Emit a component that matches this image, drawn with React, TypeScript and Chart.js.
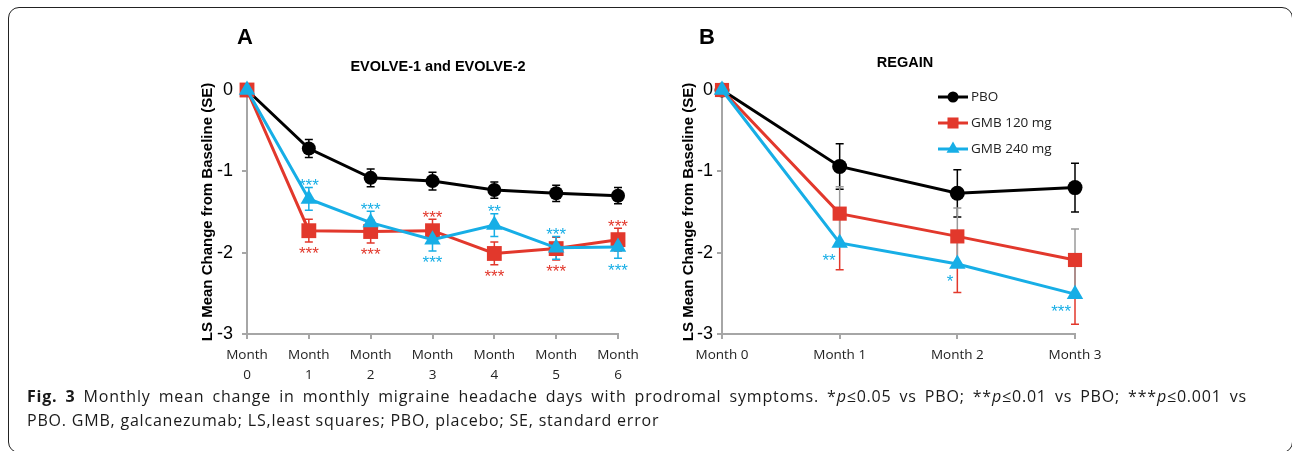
import React, { useEffect, useRef } from 'react';
import { Chart, registerables } from 'chart.js';

Chart.register(...registerables);

// ---------- data ----------
const categoriesA = ['Month 0', 'Month 1', 'Month 2', 'Month 3', 'Month 4', 'Month 5', 'Month 6'];
const pboA = [0, -0.72, -1.08, -1.12, -1.23, -1.27, -1.30];
const pboSeA = [0, 0.11, 0.11, 0.11, 0.1, 0.1, 0.1];
const gmb120A = [0, -1.73, -1.74, -1.73, -2.01, -1.95, -1.84];
const gmb120SeA = [0, 0.14, 0.14, 0.14, 0.14, 0.14, 0.14];
const gmb240A = [0, -1.34, -1.63, -1.84, -1.66, -1.94, -1.93];
const gmb240SeA = [0, 0.14, 0.14, 0.14, 0.14, 0.14, 0.14];
const stars120A = ['', '***', '***', '***', '***', '***', '***'];
const stars120PosA = ['', 'below', 'below', 'above', 'below', 'below', 'above'];
const stars240A = ['', '***', '***', '***', '**', '***', '***'];
const stars240PosA = ['', 'above', 'above', 'below', 'above', 'above', 'below'];

const categoriesB = ['Month 0', 'Month 1', 'Month 2', 'Month 3'];
const pboB = [0, -0.94, -1.27, -1.2];
const pboSeB = [0, 0.28, 0.29, 0.3];
const gmb120B = [0, -1.52, -1.8, -2.09];
const gmb120SeB = [0, 0.69, 0.69, 0.79];
const gmb240B = [0, -1.88, -2.14, -2.51];
const gmb240SeB = [0, 0.69, 0.69, 0.8];
const stars240B = ['', '**', '*', '***'];

const yTicks = [0, -1, -2, -3];
const seriesLabels = ['PBO', 'GMB 120 mg', 'GMB 240 mg'];

// ---------- styles ----------
const AXIS = '#a6a6a6';
const BLACK = '#000000';
const RED = '#e2382c';
const BLUE = '#17aee6';
const SANS = "'Liberation Sans', Arial, sans-serif";
const LABEL_FONT = "'Open Sans', 'Noto Sans', sans-serif";

function drawMarker(ctx: CanvasRenderingContext2D, style: string, x: number, y: number, r: number, color: string) {
  ctx.save();
  ctx.fillStyle = color;
  ctx.beginPath();
  if (style === 'circle') {
    ctx.arc(x, y, r, 0, Math.PI * 2);
  } else if (style === 'rect') {
    const s = r * Math.SQRT1_2;
    ctx.rect(x - s, y - s, 2 * s, 2 * s);
  } else {
    ctx.moveTo(x, y - r);
    ctx.lineTo(x + r * Math.sin((2 * Math.PI) / 3), y - r * Math.cos((2 * Math.PI) / 3));
    ctx.lineTo(x + r * Math.sin((4 * Math.PI) / 3), y - r * Math.cos((4 * Math.PI) / 3));
    ctx.closePath();
  }
  ctx.fill();
  ctx.restore();
}

const errorBarPlugin = {
  id: 'errorBars',
  beforeDatasetsDraw(chart: any) {
    const { ctx } = chart;
    const x = chart.scales.x;
    const y = chart.scales.y;
    const idx = chart.data.datasets.map((_: any, i: number) => i).sort(
      (a: number, b: number) => (chart.data.datasets[b].order || 0) - (chart.data.datasets[a].order || 0)
    );
    idx.forEach((di: number) => {
      const ds = chart.data.datasets[di];
      ctx.save();
      ctx.lineWidth = ds.errWidth || 1.5;
      ds.data.forEach((v: number, i: number) => {
        const up = ds.errPlus ? ds.errPlus[i] : 0;
        const dn = ds.errMinus ? ds.errMinus[i] : 0;
        const px = x.getPixelForValue(i);
        const py = y.getPixelForValue(v);
        const cap = 4;
        if (up) {
          ctx.strokeStyle = ds.errColorPlus || ds.borderColor;
          const t = y.getPixelForValue(v + up);
          ctx.beginPath();
          ctx.moveTo(px, py);
          ctx.lineTo(px, t);
          ctx.moveTo(px - cap, t);
          ctx.lineTo(px + cap, t);
          ctx.stroke();
        }
        if (dn) {
          ctx.strokeStyle = ds.errColorMinus || ds.borderColor;
          const b = y.getPixelForValue(v - dn);
          ctx.beginPath();
          ctx.moveTo(px, py);
          ctx.lineTo(px, b);
          ctx.moveTo(px - cap, b);
          ctx.lineTo(px + cap, b);
          ctx.stroke();
        }
      });
      ctx.restore();
    });
  },
};

function drawStars(ctx: CanvasRenderingContext2D, text: string, x: number, cy: number, color: string, align: CanvasTextAlign) {
  const size = 17;
  ctx.save();
  ctx.font = `${size}px ${SANS}`;
  ctx.fillStyle = color;
  ctx.textAlign = align;
  ctx.textBaseline = 'alphabetic';
  ctx.fillText(text, x, cy + size * 0.575);
  ctx.restore();
}

function baseOptions(yWidth: number, xHeight: number, padRight: number, titlePad: number, tickPad: number) {
  return {
    responsive: false,
    animation: false,
    devicePixelRatio: 1,
    layout: { padding: { top: 70, right: padRight, left: 0, bottom: 0 } },
    plugins: { legend: { display: false }, tooltip: { enabled: false }, title: { display: false } },
    elements: { line: { tension: 0 } },
    scales: {
      x: {
        type: 'category',
        offset: false,
        afterFit: (s: any) => { s.height = xHeight; },
        grid: { display: true, drawOnChartArea: false, drawTicks: true, tickLength: 5, color: AXIS, lineWidth: 2, offset: false },
        border: { display: true, color: AXIS, width: 2 },
        ticks: { color: '#222', font: { family: LABEL_FONT, size: 13.5, lineHeight: 1.42 }, padding: 7, maxRotation: 0, autoSkip: false },
      },
      y: {
        min: -3,
        max: 0,
        afterFit: (s: any) => { s.width = yWidth; },
        afterBuildTicks: (s: any) => { s.ticks = yTicks.map((v) => ({ value: v })); },
        grid: { display: true, drawOnChartArea: false, drawTicks: true, tickLength: 5, color: AXIS, lineWidth: 2 },
        border: { display: true, color: AXIS, width: 2 },
        ticks: { color: '#000', font: { family: SANS, size: 18 }, padding: tickPad, callback: (v: any) => String(v) },
        title: {
          display: true,
          text: 'LS Mean Change from Baseline (SE)',
          color: '#000',
          font: { family: SANS, size: 15, weight: 'bold' },
          padding: { top: titlePad, bottom: 0 },
        },
      },
    },
  };
}

function ChartA() {
  const ref = useRef<HTMLCanvasElement | null>(null);
  useEffect(() => {
    if (!ref.current) return;
    const annot = {
      id: 'annotA',
      afterDraw(chart: any) {
        const { ctx } = chart;
        const x = chart.scales.x;
        const y = chart.scales.y;
        ctx.save();
        ctx.fillStyle = '#000';
        ctx.textAlign = 'center';
        ctx.textBaseline = 'middle';
        ctx.font = `bold 22px ${SANS}`;
        ctx.fillText('A', 75, 18);
        ctx.font = `bold 14.5px ${SANS}`;
        ctx.fillText('EVOLVE-1 and EVOLVE-2', 268, 47);
        ctx.restore();
        const groups = [
          { vals: gmb120A, se: gmb120SeA, stars: stars120A, pos: stars120PosA, color: RED },
          { vals: gmb240A, se: gmb240SeA, stars: stars240A, pos: stars240PosA, color: BLUE },
        ];
        groups.forEach((g) => {
          g.vals.forEach((v, i) => {
            if (!g.stars[i]) return;
            const px = x.getPixelForValue(i);
            const cy = g.pos[i] === 'above' ? y.getPixelForValue(v + g.se[i]) - 6 : y.getPixelForValue(v - g.se[i]) + 7.5;
            drawStars(ctx, g.stars[i], px, cy, g.color, 'center');
          });
        });
      },
    };
    const chart = new Chart(ref.current, {
      type: 'line',
      data: {
        labels: categoriesA.map((c) => c.split(' ')),
        datasets: [
          { label: seriesLabels[0], data: pboA, borderColor: BLACK, backgroundColor: BLACK, borderWidth: 3, pointStyle: 'circle', pointRadius: 7, pointBorderWidth: 0, order: 3, clip: false, errPlus: pboSeA, errMinus: pboSeA },
          { label: seriesLabels[1], data: gmb120A, borderColor: RED, backgroundColor: RED, borderWidth: 3, pointStyle: 'rect', pointRadius: 10.5, pointBorderWidth: 0, order: 2, clip: false, errPlus: gmb120SeA, errMinus: gmb120SeA },
          { label: seriesLabels[2], data: gmb240A, borderColor: BLUE, backgroundColor: BLUE, borderWidth: 3, pointStyle: 'triangle', pointRadius: 9.5, pointBorderWidth: 0, order: 1, clip: false, errPlus: gmb240SeA, errMinus: gmb240SeA },
        ] as any,
      },
      options: baseOptions(77, 56, 42, 29, 9) as any,
      plugins: [errorBarPlugin, annot],
    });
    return () => chart.destroy();
  }, []);
  return <canvas ref={ref} width={490} height={370} style={{ position: 'absolute', left: 170, top: 20, width: 490, height: 370 }} />;
}

function ChartB() {
  const ref = useRef<HTMLCanvasElement | null>(null);
  useEffect(() => {
    if (!ref.current) return;
    const annot = {
      id: 'annotB',
      afterDraw(chart: any) {
        const { ctx } = chart;
        const x = chart.scales.x;
        const y = chart.scales.y;
        ctx.save();
        ctx.fillStyle = '#000';
        ctx.textAlign = 'center';
        ctx.textBaseline = 'middle';
        ctx.font = `bold 22px ${SANS}`;
        ctx.fillText('B', 57, 18);
        ctx.font = `bold 14.5px ${SANS}`;
        ctx.fillText('REGAIN', 255, 43);
        ctx.restore();
        // stars
        gmb240B.forEach((v, i) => {
          if (!stars240B[i]) return;
          const px = x.getPixelForValue(i);
          drawStars(ctx, stars240B[i], px - 4, y.getPixelForValue(v) + 13, BLUE, 'right');
        });
        // legend
        const sizes: Record<string, number> = { circle: 5.5, rect: 7.8, triangle: 7.5 };
        chart.data.datasets.forEach((ds: any, i: number) => {
          const ly = 77 + i * 26;
          ctx.save();
          ctx.strokeStyle = ds.borderColor;
          ctx.lineWidth = 3;
          ctx.beginPath();
          ctx.moveTo(288, ly);
          ctx.lineTo(318, ly);
          ctx.stroke();
          ctx.restore();
          drawMarker(ctx, ds.pointStyle, 303, ly, sizes[ds.pointStyle], ds.borderColor);
          ctx.save();
          ctx.fillStyle = '#222';
          ctx.font = `13.5px ${LABEL_FONT}`;
          ctx.textAlign = 'left';
          ctx.textBaseline = 'middle';
          ctx.fillText(ds.label, 321, ly + 0.5);
          ctx.restore();
        });
      },
    };
    const chart = new Chart(ref.current, {
      type: 'line',
      data: {
        labels: categoriesB,
        datasets: [
          { label: seriesLabels[0], data: pboB, borderColor: BLACK, backgroundColor: BLACK, borderWidth: 3, pointStyle: 'circle', pointRadius: 7.5, pointBorderWidth: 0, order: 3, clip: false, errPlus: pboSeB, errMinus: pboSeB },
          { label: seriesLabels[1], data: gmb120B, borderColor: RED, backgroundColor: RED, borderWidth: 3, pointStyle: 'rect', pointRadius: 10, pointBorderWidth: 0, order: 2, clip: false, errMinus: gmb120SeB },
          { label: seriesLabels[2], data: gmb240B, borderColor: BLUE, backgroundColor: BLUE, borderWidth: 3, pointStyle: 'triangle', pointRadius: 9.5, pointBorderWidth: 0, order: 1, clip: false, errPlus: gmb240SeB, errColorPlus: '#9a9a9a' },
        ] as any,
      },
      options: baseOptions(72, 56, 45, 30, 4) as any,
      plugins: [errorBarPlugin, annot],
    });
    return () => chart.destroy();
  }, []);
  return <canvas ref={ref} width={470} height={370} style={{ position: 'absolute', left: 650, top: 20, width: 470, height: 370 }} />;
}

export default function App() {
  const cap: React.CSSProperties = {
    fontFamily: LABEL_FONT,
    fontSize: 16,
    letterSpacing: '0.8px',
    lineHeight: '23.5px',
    color: '#1a1a1a',
    whiteSpace: 'nowrap',
  };
  return (
    <div style={{ position: 'absolute', left: 0, top: 0, width: 1292, height: 451, overflow: 'hidden', background: '#fff' }}>
      <div style={{ position: 'absolute', left: 8, top: 7, width: 1285, height: 446, border: '1.5px solid #222', borderRadius: 11, boxSizing: 'border-box' }} />
      <ChartA />
      <ChartB />
      <div style={{ position: 'absolute', left: 27, top: 385, width: 1220 }}>
        <div style={{ ...cap, textAlign: 'justify', textAlignLast: 'justify' as any, whiteSpace: 'normal' }}>
          <b>Fig. 3</b> Monthly mean change in monthly migraine headache days with prodromal symptoms. *<i>p</i>≤0.05 vs PBO; **<i>p</i>≤0.01 vs PBO; ***<i>p</i>≤0.001 vs
        </div>
        <div style={cap}>PBO. GMB, galcanezumab; LS,least squares; PBO, placebo; SE, standard error</div>
      </div>
    </div>
  );
}
